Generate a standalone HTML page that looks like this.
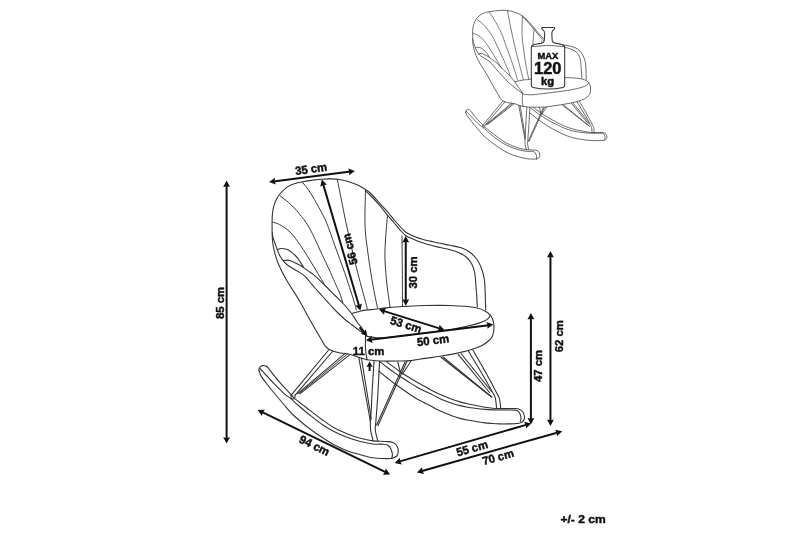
<!DOCTYPE html>
<html lang="en">
<head>
<meta charset="utf-8">
<title>Rocking chair dimensions</title>
<style>
html,body{margin:0;padding:0;background:#fff;}
body{width:800px;height:533px;overflow:hidden;position:relative;font-family:"Liberation Sans",sans-serif;}
svg{position:absolute;left:0;top:0;display:block;will-change:transform;}
svg text{font-family:"Liberation Sans",sans-serif;font-weight:bold;fill:#111;stroke:#111;stroke-width:0.45px;}
</style>
</head>
<body>
<svg width="800" height="533" viewBox="0 0 800 533" role="img" aria-label="Rocking chair dimension drawing">
<rect width="800" height="533" fill="#fff"/>
<!-- main chair -->
<g fill="none" stroke="#333" stroke-width="1.1" stroke-linecap="round" stroke-linejoin="round">
<path d="M485.7 310C485.65 308.33 485.5 303.33 485.4 300C485.3 296.67 485.28 293.5 485.1 290C484.92 286.5 484.9 282.58 484.3 279C483.7 275.42 482.72 271.75 481.5 268.5C480.28 265.25 479 262.25 477 259.5C475 256.75 472.25 253.98 469.5 252C466.75 250.02 463.75 248.72 460.5 247.6C457.25 246.47 453.42 245.97 450 245.25C446.58 244.53 442.83 243.88 440 243.3C437.17 242.73 435.92 242.48 433 241.8C430.08 241.12 425.5 240.1 422.5 239.25C419.5 238.4 417.5 237.7 415 236.7C412.5 235.7 409.25 234.2 407.5 233.25C405.75 232.3 405.75 232.12 404.5 231C403.25 229.88 401.75 228.38 400 226.5C398.25 224.62 396 222.12 394 219.75C392 217.38 390.5 215.12 388 212.25C385.5 209.38 382 205.75 379 202.5C376 199.25 373.08 195.42 370 192.75C366.92 190.08 363.77 188.24 360.5 186.5C357.23 184.76 353.75 183.42 350.4 182.3C347.05 181.18 343.75 180.37 340.4 179.8C337.05 179.23 333.45 179 330.3 178.9C327.15 178.8 324.42 178.98 321.5 179.2C318.58 179.42 315.93 179.78 312.8 180.2C309.67 180.62 305.79 181.1 302.7 181.7C299.61 182.3 296.78 182.93 294.25 183.8C291.72 184.67 289.75 185.37 287.5 186.9C285.25 188.43 282.62 190.88 280.75 193C278.88 195.12 277.51 197.2 276.3 199.6C275.09 202 274.15 204.93 273.5 207.4C272.85 209.87 272.63 211.97 272.4 214.4C272.17 216.83 272.13 218.57 272.1 222C272.07 225.43 272.1 231.58 272.2 235C272.3 238.42 272.35 239.83 272.7 242.5C273.05 245.17 273.35 247.42 274.3 251C275.25 254.58 276.37 259.17 278.4 264C280.43 268.83 283.07 274 286.5 280C289.93 286 295.08 293.33 299 300C302.92 306.67 306.23 313.33 310 320C313.77 326.67 319.03 335.62 321.6 340C324.17 344.38 324.15 344.73 325.4 346.3C326.65 347.87 327 348.37 329.1 349.4C331.2 350.43 334.43 351.65 338 352.5C341.57 353.35 347.02 353.68 350.5 354.5C353.98 355.32 356.15 356.53 358.9 357.4C361.65 358.27 365.65 359.32 367 359.7"/>
<path d="M477.3 306.75C477.22 305.12 477 300.12 476.8 297C476.6 293.88 476.44 292 476.1 288C475.76 284 475.48 277 474.75 273C474.02 269 473.12 266.62 471.75 264C470.38 261.38 468.62 259.12 466.5 257.25C464.38 255.38 461.75 254 459 252.75C456.25 251.5 453.17 250.62 450 249.75C446.83 248.88 442.83 248.16 440 247.5C437.17 246.84 435.92 246.58 433 245.8C430.08 245.02 425.75 243.89 422.5 242.8C419.25 241.71 416.25 240.42 413.5 239.25C410.75 238.08 408.25 237.38 406 235.8C403.75 234.23 402 231.98 400 229.8C398 227.62 396.12 225.25 394 222.75C391.88 220.25 389.75 217.83 387.25 214.8C384.75 211.78 381.88 207.9 379 204.6C376.12 201.3 372.28 197.27 370 195C367.72 192.73 366.08 191.67 365.3 191"/>
<path d="M272.75 222.25C273.88 222.62 276.62 222.88 279.5 224.5C282.38 226.12 286.5 228.5 290 232C293.5 235.5 297 240.5 300.5 245.5C304 250.5 307.75 256.75 311 262C314.25 267.25 317.75 273.25 320 277C322.25 280.75 323.75 283.25 324.5 284.5" stroke-width="0.97"/>
<path d="M280 195.75C281.9 197.29 287.82 201.54 291.4 205C294.98 208.46 298.4 212.5 301.5 216.5C304.6 220.5 306.92 223.42 310 229C313.08 234.58 316.58 242.75 320 250C323.42 257.25 327.83 266.67 330.5 272.5C333.17 278.33 334.46 281.54 336 285C337.54 288.46 338.62 290.32 339.75 293.25C340.88 296.18 342.25 301.04 342.75 302.6" stroke-width="0.97"/>
<path d="M302.7 182.5C303.96 184.18 307.53 188.4 310.25 192.6C312.97 196.8 316.27 202.67 319 207.7C321.73 212.73 323.97 216.5 326.6 222.8C329.23 229.1 331.8 237.22 334.8 245.5C337.8 253.78 341.47 263.42 344.6 272.5C347.73 281.58 351.65 293.75 353.6 300C355.55 306.25 355.85 308.33 356.3 310" stroke-width="0.97"/>
<path d="M337.3 179.4C338.03 183.07 340.17 193.8 341.7 201.4C343.23 209 344.28 214.9 346.5 225C348.72 235.1 351.92 249.5 355 262C358.08 274.5 362.92 292.17 365 300C367.08 307.83 367.08 307.5 367.5 309" stroke-width="0.97"/>
<path d="M365.5 190C365.42 195.83 364.67 215 365 225C365.33 235 366.25 240.33 367.5 250C368.75 259.67 370.83 273.33 372.5 283C374.17 292.67 376.67 303.83 377.5 308" stroke-width="0.97"/>
<path d="M387.5 215C387.17 219.17 385.92 232.5 385.5 240C385.08 247.5 384.75 252.5 385 260C385.25 267.5 386.17 277.25 387 285C387.83 292.75 389.5 302.92 390 306.5" stroke-width="0.97"/>
<path d="M402 236C402.05 241.67 402.22 258.33 402.3 270C402.38 281.67 402.47 300 402.5 306" stroke-width="0.97"/>
<path d="M277.4 249.8C277.77 249.63 278.79 249.02 279.6 248.8C280.41 248.58 280.93 248.37 282.25 248.5C283.57 248.63 286 249 287.5 249.6C289 250.2 290 251.16 291.25 252.1C292.5 253.04 293.88 254.17 295 255.25C296.12 256.33 297.12 257.48 298 258.6C298.88 259.73 299.32 260.53 300.25 262C301.18 263.47 303.04 266.5 303.6 267.4"/>
<path d="M283.4 260.6C284.08 260.52 286.19 260.03 287.5 260.1C288.81 260.17 290 260.56 291.25 261C292.5 261.44 293.62 262.08 295 262.75C296.38 263.42 298.07 264.19 299.5 265C300.93 265.81 301.85 266.38 303.6 267.6C305.35 268.82 308.02 270.85 310 272.3C311.98 273.75 313.08 274.18 315.5 276.3C317.92 278.42 321.25 281.8 324.5 285C327.75 288.2 331.75 292.25 335 295.5C338.25 298.75 341.25 301.5 344 304.5C346.75 307.5 349.25 310.5 351.5 313.5C353.75 316.5 355.67 319.92 357.5 322.5C359.33 325.08 361.08 326.92 362.5 329C363.92 331.08 365.42 334 366 335"/>
<path d="M272.4 233C272.47 233.67 272.41 235.42 272.8 237C273.19 238.58 273.98 240.33 274.75 242.5C275.52 244.67 276.52 247.75 277.4 250C278.27 252.25 279 254.18 280 256C281 257.82 282.15 259.4 283.4 260.9C284.65 262.4 285.57 263.53 287.5 265C289.43 266.47 292.25 267.97 295 269.7C297.75 271.43 301.58 273.43 304 275.4C306.42 277.37 307.67 279.4 309.5 281.5C311.33 283.6 312.83 285.54 315 288C317.17 290.46 320 293.5 322.5 296.25C325 299 327.5 301.79 330 304.5C332.5 307.21 335 310 337.5 312.5C340 315 342.62 317.46 345 319.5C347.38 321.54 349.5 323.05 351.75 324.75C354 326.45 356.12 327.99 358.5 329.7C360.88 331.41 364.75 334.12 366 335"/>
<path d="M351.75 313.5C353.12 313.12 357.38 311.8 360 311.2C362.62 310.6 365 310.23 367.5 309.9C370 309.57 371.25 309.62 375 309.2C378.75 308.78 385 307.87 390 307.4C395 306.93 399.17 306.72 405 306.4C410.83 306.08 417.5 305.65 425 305.5C432.5 305.35 441.67 305.17 450 305.5C458.33 305.83 468.75 306.33 475 307.5C481.25 308.67 484.58 310.58 487.5 312.5C490.42 314.42 491.42 316.5 492.5 319C493.58 321.5 494 324.67 494 327.5C494 330.33 493.25 333.92 492.5 336C491.75 338.08 491.25 338.43 489.5 340C487.75 341.57 485.25 343.73 482 345.4C478.75 347.07 474.5 348.63 470 350C465.5 351.37 460 352.55 455 353.6C450 354.65 445 355.5 440 356.3C435 357.1 430 357.68 425 358.4C420 359.12 414.33 360.17 410 360.6C405.67 361.03 403.96 360.93 399 361C394.04 361.07 385.58 361.22 380.25 361C374.92 360.78 369.21 359.92 367 359.7"/>
<path d="M365.6 335C365.57 336.67 365.37 342.17 365.4 345C365.43 347.83 365.53 349.58 365.8 352C366.07 354.42 366.8 358.25 367 359.5"/>
<path d="M366 336C367.5 336.27 371.83 337.33 375 337.6C378.17 337.87 380.83 337.87 385 337.6C389.17 337.33 393.33 336.77 400 336C406.67 335.23 416.67 334.05 425 333C433.33 331.95 443.02 330.82 450 329.7C456.98 328.58 462.22 327.35 466.9 326.3C471.58 325.25 475.1 324.32 478.1 323.4C481.1 322.48 483.15 321.68 484.9 320.8C486.65 319.92 487.75 318.93 488.6 318.1C489.45 317.27 489.77 316.18 490 315.8"/>
<path d="M328.6 350L291 395.3"/>
<path d="M332.9 351L295.4 394.8"/>
<path d="M290.8 395.3C290.92 395.83 290.88 398 291.5 398.5C292.12 399 293.88 398.95 294.5 398.3C295.12 397.65 295.08 395.22 295.2 394.6"/>
<path d="M345.2 353.4L297.6 393.6"/>
<path d="M347.6 353.9L298.9 393.6" stroke-width="0.97"/>
<path d="M350.3 354.4L300.2 393.6"/>
<path d="M358.8 357.6L370.3 421"/>
<path d="M361.4 358L371.3 419"/>
<path d="M374 361.4C373.68 366.5 372.57 383.78 372.1 392C371.63 400.22 371.5 405.87 371.2 410.7C370.9 415.53 370.37 417.57 370.3 421C370.23 424.43 370.32 428 370.8 431.3C371.28 434.6 372.8 439.22 373.2 440.8"/>
<path d="M379.6 361.4C379.3 367 378.4 385.23 377.8 395C377.2 404.77 376.42 414.17 376 420C375.58 425.83 375 426.52 375.3 430C375.6 433.48 377.38 439.08 377.8 440.9"/>
<path d="M405 362L376.6 425"/>
<path d="M406.9 361.6L377.9 425.8"/>
<path d="M397.8 362L400.5 373"/>
<path d="M411 361L402.5 374"/>
<path d="M441 357.25L491 396.5"/>
<path d="M443 357L492 397.2"/>
<path d="M458 354.2L489.5 392.5"/>
<path d="M461 353.5L491.75 391.75"/>
<path d="M468.5 351.25C470.58 354.71 476.75 364.71 481 372C485.25 379.29 491.57 390.42 494 395C496.43 399.58 495.17 397.28 495.6 399.5C496.03 401.72 496.43 406.83 496.6 408.3"/>
<path d="M473 350.2C475.08 353.83 481.38 364.53 485.5 372C489.62 379.47 495.4 390.42 497.75 395C500.1 399.58 499.1 397.25 499.6 399.5C500.1 401.75 500.56 407 500.75 408.5"/>
<path d="M259 370.8C259 370.5 258.82 369.67 259 369C259.18 368.33 259.45 367.37 260.1 366.8C260.75 366.23 261.98 365.73 262.9 365.6C263.82 365.47 264.75 365.67 265.6 366C266.45 366.33 266.85 366.33 268 367.6C269.15 368.87 270.25 370.82 272.5 373.6C274.75 376.38 278.5 380.93 281.5 384.3C284.5 387.67 288.25 391.37 290.5 393.8C292.75 396.23 292.53 396.73 295 398.9C297.47 401.07 300.7 403.28 305.3 406.8C309.9 410.32 317.65 416.42 322.6 420C327.55 423.58 330.82 425.97 335 428.3C339.18 430.63 343.49 432.33 347.7 434C351.91 435.67 356.07 437.15 360.25 438.3C364.43 439.45 368.61 440.37 372.8 440.9C376.99 441.43 382.03 441.23 385.4 441.5C388.77 441.77 391.02 441.67 393 442.5C394.98 443.33 396.43 444.95 397.3 446.5C398.17 448.05 398.27 450.22 398.2 451.8C398.13 453.38 397.98 454.9 396.9 456C395.82 457.1 392.57 458 391.7 458.4"/>
<path d="M259.8 368.5C260.83 369.58 263.88 372.75 266 375C268.12 377.25 269.53 378.95 272.5 382C275.47 385.05 280.7 390.48 283.8 393.3C286.9 396.12 288.85 397.03 291.1 398.9C293.35 400.77 294.15 401.78 297.3 404.5C300.45 407.22 305.78 411.82 310 415.2C314.22 418.58 318.43 421.98 322.6 424.8C326.77 427.62 330.82 429.97 335 432.1C339.18 434.23 343.49 436.03 347.7 437.6C351.91 439.17 356.07 440.43 360.25 441.5C364.43 442.57 369.01 443.55 372.8 444C376.59 444.45 380.47 443.98 383 444.2C385.53 444.42 386.67 444.45 388 445.3C389.33 446.15 390.27 447.72 391 449.3C391.73 450.88 392.28 453.28 392.4 454.8C392.52 456.32 391.82 457.8 391.7 458.4"/>
<path d="M259 370.8C259.38 371.73 260.05 374.28 261.3 376.4C262.55 378.52 264.63 381.07 266.5 383.5C268.37 385.93 269.62 387.5 272.5 391C275.38 394.5 280.6 400.75 283.8 404.5C287 408.25 289 410.75 291.7 413.5C294.4 416.25 296.95 418.42 300 421C303.05 423.58 306.23 426.22 310 429C313.77 431.78 318.43 434.99 322.6 437.7C326.77 440.41 330.82 443.03 335 445.25C339.18 447.47 343.49 449.43 347.7 451C351.91 452.57 356.07 453.57 360.25 454.7C364.43 455.83 368.61 457.15 372.8 457.8C376.99 458.45 382.25 458.5 385.4 458.6C388.55 458.7 390.65 458.43 391.7 458.4"/>
<path d="M386.5 361.9C387.92 362.9 392.33 365.97 395 367.9C397.67 369.83 400 371.82 402.5 373.5C405 375.18 407.5 376.5 410 378C412.5 379.5 415 381.07 417.5 382.5C420 383.93 422.92 385.45 425 386.6C427.08 387.75 427.92 388.29 430 389.4C432.08 390.51 435 392.05 437.5 393.25C440 394.45 442.5 395.54 445 396.6C447.5 397.66 450 398.72 452.5 399.6C455 400.48 457.5 401.2 460 401.9C462.5 402.6 465 403.23 467.5 403.8C470 404.37 472.08 404.72 475 405.3C477.92 405.88 482.08 406.8 485 407.3C487.92 407.8 490 408.08 492.5 408.3C495 408.52 497.5 408.6 500 408.65C502.5 408.7 505 408.62 507.5 408.6C510 408.58 513.12 408.45 515 408.5C516.88 408.55 517.5 408.4 518.75 408.9C520 409.4 521.56 410.32 522.5 411.5C523.44 412.68 524.15 414.62 524.4 416C524.65 417.38 524.44 418.68 524 419.75C523.56 420.82 522.75 421.77 521.75 422.4C520.75 423.02 518.62 423.32 518 423.5"/>
<path d="M380.3 361.9C381.42 362.78 384.55 365.33 387 367.2C389.45 369.07 392.42 371.3 395 373.1C397.58 374.9 400 376.37 402.5 378C405 379.63 407.5 381.33 410 382.9C412.5 384.47 415 386 417.5 387.4C420 388.8 422.92 390.27 425 391.3C427.08 392.33 427.92 392.58 430 393.6C432.08 394.62 435 396.21 437.5 397.4C440 398.59 442.5 399.75 445 400.75C447.5 401.75 450 402.59 452.5 403.4C455 404.21 457.5 404.97 460 405.6C462.5 406.23 465 406.75 467.5 407.2C470 407.65 472.08 407.93 475 408.3C477.92 408.67 482.08 409.14 485 409.4C487.92 409.66 490 409.75 492.5 409.85C495 409.95 497.5 409.98 500 410C502.5 410.02 505 409.98 507.5 410C510 410.02 513.25 409.97 515 410.15C516.75 410.33 517.12 410.38 518 411.1C518.88 411.83 519.75 413.31 520.25 414.5C520.75 415.69 521 417 521 418.25C521 419.5 520.38 421.38 520.25 422"/>
<path d="M378.8 371.2C380.17 372.3 384.3 375.67 387 377.8C389.7 379.93 392.42 382.09 395 384C397.58 385.91 400 387.5 402.5 389.25C405 391 407.5 392.84 410 394.5C412.5 396.16 415 397.75 417.5 399.2C420 400.65 422.92 402.13 425 403.2C427.08 404.27 427.92 404.51 430 405.6C432.08 406.69 435 408.5 437.5 409.75C440 411 442.5 412.04 445 413.1C447.5 414.16 450 415.22 452.5 416.1C455 416.98 457.5 417.75 460 418.4C462.5 419.05 465 419.52 467.5 420C470 420.48 472.08 420.82 475 421.3C477.92 421.78 482.08 422.53 485 422.9C487.92 423.27 490 423.33 492.5 423.5C495 423.67 497.5 423.83 500 423.9C502.5 423.97 505 423.94 507.5 423.9C510 423.86 513.25 423.72 515 423.65C516.75 423.58 517.5 423.52 518 423.5"/>
</g>
<!-- dimension arrows -->
<g fill="#111" stroke="none">
<path d="M226.6 180.5L223.15 186.9L226.6 186.2L230.05 186.9Z"/>
<path d="M226.6 443.6L223.15 437.2L226.6 437.9L230.05 437.2Z"/>
<path d="M226.6 184.98L226.6 439.12" fill="none" stroke="#111" stroke-width="2"/>
<path d="M269 182L275.79 184.61L274.65 181.28L274.91 177.77Z"/>
<path d="M355 171L349.09 175.23L349.35 171.72L348.21 168.39Z"/>
<path d="M273.44 181.43L350.56 171.57" fill="none" stroke="#111" stroke-width="2"/>
<path d="M321.8 179.6L320.3 186.71L323.41 185.07L326.92 184.76Z"/>
<path d="M360.4 310.6L355.28 305.44L358.79 305.13L361.9 303.49Z"/>
<path d="M323.07 183.9L359.13 306.3" fill="none" stroke="#111" stroke-width="2"/>
<path d="M405.75 236L402.3 242.4L405.75 241.7L409.2 242.4Z"/>
<path d="M405.75 305.75L402.3 299.35L405.75 300.05L409.2 299.35Z"/>
<path d="M405.75 240.48L405.75 301.27" fill="none" stroke="#111" stroke-width="2"/>
<path d="M379 309.5L384.08 314.7L384.44 311.2L386.14 308.12Z"/>
<path d="M444.5 330L437.36 331.38L439.06 328.3L439.42 324.8Z"/>
<path d="M383.28 310.84L440.22 328.66" fill="none" stroke="#111" stroke-width="2"/>
<path d="M365.9 340.3L372.67 342.94L371.56 339.6L371.83 336.09Z"/>
<path d="M493.3 324.6L487.37 328.81L487.64 325.3L486.53 321.96Z"/>
<path d="M370.35 339.75L488.85 325.15" fill="none" stroke="#111" stroke-width="2"/>
<path d="M530.9 313L527.45 319.4L530.9 318.7L534.35 319.4Z"/>
<path d="M530.9 424.5L527.45 418.1L530.9 418.8L534.35 418.1Z"/>
<path d="M530.9 317.48L530.9 420.02" fill="none" stroke="#111" stroke-width="2"/>
<path d="M550.45 251L547 257.4L550.45 256.7L553.9 257.4Z"/>
<path d="M550.45 426L547 419.6L550.45 420.3L553.9 419.6Z"/>
<path d="M550.45 255.48L550.45 421.52" fill="none" stroke="#111" stroke-width="2"/>
<path d="M257.7 410L261.95 415.9L262.83 412.49L264.96 409.7Z"/>
<path d="M390.1 474.4L382.84 474.7L384.97 471.91L385.85 468.5Z"/>
<path d="M261.73 411.96L386.07 472.44" fill="none" stroke="#111" stroke-width="2"/>
<path d="M394.7 462.9L401.81 464.44L400.18 461.32L399.89 457.81Z"/>
<path d="M531.2 423.4L526.01 428.49L525.72 424.98L524.09 421.86Z"/>
<path d="M399 461.65L526.9 424.65" fill="none" stroke="#111" stroke-width="2"/>
<path d="M416.9 472.4L424 473.97L422.38 470.85L422.12 467.33Z"/>
<path d="M562.2 431.2L556.98 436.27L556.72 432.75L555.1 429.63Z"/>
<path d="M421.21 471.18L557.89 432.42" fill="none" stroke="#111" stroke-width="2"/>
<path d="M369.6 361.4L366.45 367L369.6 366.3L372.75 367Z"/>
<path d="M369.6 365.32L369.6 371" fill="none" stroke="#111" stroke-width="2"/>
<path d="M367.3 336L360.84 333.74L363.76 332.05L365.75 329.33Z"/>
<path d="M359.5 327.3L364.5 332.87" fill="none" stroke="#111" stroke-width="2"/>
</g>
<!-- dimension labels -->
<g>
<text transform="translate(219.6 303) rotate(-90) scale(0.98 1)" font-size="11.6" text-anchor="middle" dominant-baseline="central">85 cm</text>
<text transform="translate(311.1 168.8) rotate(-8) scale(0.98 1)" font-size="11.6" text-anchor="middle" dominant-baseline="central">35 cm</text>
<text transform="translate(349.9 249.2) rotate(-104.5) scale(0.96 1)" font-size="11.6" text-anchor="middle" dominant-baseline="central">56 cm</text>
<text transform="translate(412.5 272.5) rotate(-90) scale(0.98 1)" font-size="11.6" text-anchor="middle" dominant-baseline="central">30 cm</text>
<text transform="translate(406 324.6) rotate(17) scale(0.98 1)" font-size="11.6" text-anchor="middle" dominant-baseline="central">53 cm</text>
<text transform="translate(433 340.2) rotate(-7) scale(0.98 1)" font-size="11.6" text-anchor="middle" dominant-baseline="central">50 cm</text>
<text transform="translate(537.5 366) rotate(-90) scale(0.98 1)" font-size="11.6" text-anchor="middle" dominant-baseline="central">47 cm</text>
<text transform="translate(558.9 336.2) rotate(-90) scale(0.98 1)" font-size="11.6" text-anchor="middle" dominant-baseline="central">62 cm</text>
<text transform="translate(314.5 445.5) rotate(26) scale(0.98 1)" font-size="11.6" text-anchor="middle" dominant-baseline="central">94 cm</text>
<text transform="translate(472 448.25) rotate(-16) scale(0.98 1)" font-size="11.6" text-anchor="middle" dominant-baseline="central">55 cm</text>
<text transform="translate(498 457) rotate(-16) scale(0.98 1)" font-size="11.6" text-anchor="middle" dominant-baseline="central">70 cm</text>
<text transform="translate(368.6 350.9) scale(0.98 1)" font-size="11.6" text-anchor="middle" dominant-baseline="central">11 cm</text>
<text transform="translate(583.1 519) scale(1.04 1)" font-size="11.6" text-anchor="middle" dominant-baseline="central">+/- 2 cm</text>
</g>
<!-- small chair with max load -->
<g transform="translate(327.9 -84.9) scale(0.532)">
<g fill="none" stroke="#444" stroke-width="1.5" stroke-linecap="round" stroke-linejoin="round">
<path d="M485.7 310C485.65 308.33 485.5 303.33 485.4 300C485.3 296.67 485.28 293.5 485.1 290C484.92 286.5 484.9 282.58 484.3 279C483.7 275.42 482.72 271.75 481.5 268.5C480.28 265.25 479 262.25 477 259.5C475 256.75 472.25 253.98 469.5 252C466.75 250.02 463.75 248.72 460.5 247.6C457.25 246.47 453.42 245.97 450 245.25C446.58 244.53 442.83 243.88 440 243.3C437.17 242.73 435.92 242.48 433 241.8C430.08 241.12 425.5 240.1 422.5 239.25C419.5 238.4 417.5 237.7 415 236.7C412.5 235.7 409.25 234.2 407.5 233.25C405.75 232.3 405.75 232.12 404.5 231C403.25 229.88 401.75 228.38 400 226.5C398.25 224.62 396 222.12 394 219.75C392 217.38 390.5 215.12 388 212.25C385.5 209.38 382 205.75 379 202.5C376 199.25 373.08 195.42 370 192.75C366.92 190.08 363.77 188.24 360.5 186.5C357.23 184.76 353.75 183.42 350.4 182.3C347.05 181.18 343.75 180.37 340.4 179.8C337.05 179.23 333.45 179 330.3 178.9C327.15 178.8 324.42 178.98 321.5 179.2C318.58 179.42 315.93 179.78 312.8 180.2C309.67 180.62 305.79 181.1 302.7 181.7C299.61 182.3 296.78 182.93 294.25 183.8C291.72 184.67 289.75 185.37 287.5 186.9C285.25 188.43 282.62 190.88 280.75 193C278.88 195.12 277.51 197.2 276.3 199.6C275.09 202 274.15 204.93 273.5 207.4C272.85 209.87 272.63 211.97 272.4 214.4C272.17 216.83 272.13 218.57 272.1 222C272.07 225.43 272.1 231.58 272.2 235C272.3 238.42 272.35 239.83 272.7 242.5C273.05 245.17 273.35 247.42 274.3 251C275.25 254.58 276.37 259.17 278.4 264C280.43 268.83 283.07 274 286.5 280C289.93 286 295.08 293.33 299 300C302.92 306.67 306.23 313.33 310 320C313.77 326.67 319.03 335.62 321.6 340C324.17 344.38 324.15 344.73 325.4 346.3C326.65 347.87 327 348.37 329.1 349.4C331.2 350.43 334.43 351.65 338 352.5C341.57 353.35 347.02 353.68 350.5 354.5C353.98 355.32 356.15 356.53 358.9 357.4C361.65 358.27 365.65 359.32 367 359.7"/>
<path d="M477.3 306.75C477.22 305.12 477 300.12 476.8 297C476.6 293.88 476.44 292 476.1 288C475.76 284 475.48 277 474.75 273C474.02 269 473.12 266.62 471.75 264C470.38 261.38 468.62 259.12 466.5 257.25C464.38 255.38 461.75 254 459 252.75C456.25 251.5 453.17 250.62 450 249.75C446.83 248.88 442.83 248.16 440 247.5C437.17 246.84 435.92 246.58 433 245.8C430.08 245.02 425.75 243.89 422.5 242.8C419.25 241.71 416.25 240.42 413.5 239.25C410.75 238.08 408.25 237.38 406 235.8C403.75 234.23 402 231.98 400 229.8C398 227.62 396.12 225.25 394 222.75C391.88 220.25 389.75 217.83 387.25 214.8C384.75 211.78 381.88 207.9 379 204.6C376.12 201.3 372.28 197.27 370 195C367.72 192.73 366.08 191.67 365.3 191"/>
<path d="M272.75 222.25C273.88 222.62 276.62 222.88 279.5 224.5C282.38 226.12 286.5 228.5 290 232C293.5 235.5 297 240.5 300.5 245.5C304 250.5 307.75 256.75 311 262C314.25 267.25 317.75 273.25 320 277C322.25 280.75 323.75 283.25 324.5 284.5" stroke-width="1.32"/>
<path d="M280 195.75C281.9 197.29 287.82 201.54 291.4 205C294.98 208.46 298.4 212.5 301.5 216.5C304.6 220.5 306.92 223.42 310 229C313.08 234.58 316.58 242.75 320 250C323.42 257.25 327.83 266.67 330.5 272.5C333.17 278.33 334.46 281.54 336 285C337.54 288.46 338.62 290.32 339.75 293.25C340.88 296.18 342.25 301.04 342.75 302.6" stroke-width="1.32"/>
<path d="M302.7 182.5C303.96 184.18 307.53 188.4 310.25 192.6C312.97 196.8 316.27 202.67 319 207.7C321.73 212.73 323.97 216.5 326.6 222.8C329.23 229.1 331.8 237.22 334.8 245.5C337.8 253.78 341.47 263.42 344.6 272.5C347.73 281.58 351.65 293.75 353.6 300C355.55 306.25 355.85 308.33 356.3 310" stroke-width="1.32"/>
<path d="M337.3 179.4C338.03 183.07 340.17 193.8 341.7 201.4C343.23 209 344.28 214.9 346.5 225C348.72 235.1 351.92 249.5 355 262C358.08 274.5 362.92 292.17 365 300C367.08 307.83 367.08 307.5 367.5 309" stroke-width="1.32"/>
<path d="M365.5 190C365.42 195.83 364.67 215 365 225C365.33 235 366.25 240.33 367.5 250C368.75 259.67 370.83 273.33 372.5 283C374.17 292.67 376.67 303.83 377.5 308" stroke-width="1.32"/>
<path d="M387.5 215C387.17 219.17 385.92 232.5 385.5 240C385.08 247.5 384.75 252.5 385 260C385.25 267.5 386.17 277.25 387 285C387.83 292.75 389.5 302.92 390 306.5" stroke-width="1.32"/>
<path d="M402 236C402.05 241.67 402.22 258.33 402.3 270C402.38 281.67 402.47 300 402.5 306" stroke-width="1.32"/>
<path d="M277.4 249.8C277.77 249.63 278.79 249.02 279.6 248.8C280.41 248.58 280.93 248.37 282.25 248.5C283.57 248.63 286 249 287.5 249.6C289 250.2 290 251.16 291.25 252.1C292.5 253.04 293.88 254.17 295 255.25C296.12 256.33 297.12 257.48 298 258.6C298.88 259.73 299.32 260.53 300.25 262C301.18 263.47 303.04 266.5 303.6 267.4"/>
<path d="M283.4 260.6C284.08 260.52 286.19 260.03 287.5 260.1C288.81 260.17 290 260.56 291.25 261C292.5 261.44 293.62 262.08 295 262.75C296.38 263.42 298.07 264.19 299.5 265C300.93 265.81 301.85 266.38 303.6 267.6C305.35 268.82 308.02 270.85 310 272.3C311.98 273.75 313.08 274.18 315.5 276.3C317.92 278.42 321.25 281.8 324.5 285C327.75 288.2 331.75 292.25 335 295.5C338.25 298.75 341.25 301.5 344 304.5C346.75 307.5 349.25 310.5 351.5 313.5C353.75 316.5 355.67 319.92 357.5 322.5C359.33 325.08 361.08 326.92 362.5 329C363.92 331.08 365.42 334 366 335"/>
<path d="M272.4 233C272.47 233.67 272.41 235.42 272.8 237C273.19 238.58 273.98 240.33 274.75 242.5C275.52 244.67 276.52 247.75 277.4 250C278.27 252.25 279 254.18 280 256C281 257.82 282.15 259.4 283.4 260.9C284.65 262.4 285.57 263.53 287.5 265C289.43 266.47 292.25 267.97 295 269.7C297.75 271.43 301.58 273.43 304 275.4C306.42 277.37 307.67 279.4 309.5 281.5C311.33 283.6 312.83 285.54 315 288C317.17 290.46 320 293.5 322.5 296.25C325 299 327.5 301.79 330 304.5C332.5 307.21 335 310 337.5 312.5C340 315 342.62 317.46 345 319.5C347.38 321.54 349.5 323.05 351.75 324.75C354 326.45 356.12 327.99 358.5 329.7C360.88 331.41 364.75 334.12 366 335"/>
<path d="M351.75 313.5C353.12 313.12 357.38 311.8 360 311.2C362.62 310.6 365 310.23 367.5 309.9C370 309.57 371.25 309.62 375 309.2C378.75 308.78 385 307.87 390 307.4C395 306.93 399.17 306.72 405 306.4C410.83 306.08 417.5 305.65 425 305.5C432.5 305.35 441.67 305.17 450 305.5C458.33 305.83 468.75 306.33 475 307.5C481.25 308.67 484.58 310.58 487.5 312.5C490.42 314.42 491.42 316.5 492.5 319C493.58 321.5 494 324.67 494 327.5C494 330.33 493.25 333.92 492.5 336C491.75 338.08 491.25 338.43 489.5 340C487.75 341.57 485.25 343.73 482 345.4C478.75 347.07 474.5 348.63 470 350C465.5 351.37 460 352.55 455 353.6C450 354.65 445 355.5 440 356.3C435 357.1 430 357.68 425 358.4C420 359.12 414.33 360.17 410 360.6C405.67 361.03 403.96 360.93 399 361C394.04 361.07 385.58 361.22 380.25 361C374.92 360.78 369.21 359.92 367 359.7"/>
<path d="M365.6 335C365.57 336.67 365.37 342.17 365.4 345C365.43 347.83 365.53 349.58 365.8 352C366.07 354.42 366.8 358.25 367 359.5"/>
<path d="M366 336C367.5 336.27 371.83 337.33 375 337.6C378.17 337.87 380.83 337.87 385 337.6C389.17 337.33 393.33 336.77 400 336C406.67 335.23 416.67 334.05 425 333C433.33 331.95 443.02 330.82 450 329.7C456.98 328.58 462.22 327.35 466.9 326.3C471.58 325.25 475.1 324.32 478.1 323.4C481.1 322.48 483.15 321.68 484.9 320.8C486.65 319.92 487.75 318.93 488.6 318.1C489.45 317.27 489.77 316.18 490 315.8"/>
<path d="M328.6 350L291 395.3"/>
<path d="M332.9 351L295.4 394.8"/>
<path d="M290.8 395.3C290.92 395.83 290.88 398 291.5 398.5C292.12 399 293.88 398.95 294.5 398.3C295.12 397.65 295.08 395.22 295.2 394.6"/>
<path d="M345.2 353.4L297.6 393.6"/>
<path d="M347.6 353.9L298.9 393.6" stroke-width="1.32"/>
<path d="M350.3 354.4L300.2 393.6"/>
<path d="M358.8 357.6L370.3 421"/>
<path d="M361.4 358L371.3 419"/>
<path d="M374 361.4C373.68 366.5 372.57 383.78 372.1 392C371.63 400.22 371.5 405.87 371.2 410.7C370.9 415.53 370.37 417.57 370.3 421C370.23 424.43 370.32 428 370.8 431.3C371.28 434.6 372.8 439.22 373.2 440.8"/>
<path d="M379.6 361.4C379.3 367 378.4 385.23 377.8 395C377.2 404.77 376.42 414.17 376 420C375.58 425.83 375 426.52 375.3 430C375.6 433.48 377.38 439.08 377.8 440.9"/>
<path d="M405 362L376.6 425"/>
<path d="M406.9 361.6L377.9 425.8"/>
<path d="M397.8 362L400.5 373"/>
<path d="M411 361L402.5 374"/>
<path d="M441 357.25L491 396.5"/>
<path d="M443 357L492 397.2"/>
<path d="M458 354.2L489.5 392.5"/>
<path d="M461 353.5L491.75 391.75"/>
<path d="M468.5 351.25C470.58 354.71 476.75 364.71 481 372C485.25 379.29 491.57 390.42 494 395C496.43 399.58 495.17 397.28 495.6 399.5C496.03 401.72 496.43 406.83 496.6 408.3"/>
<path d="M473 350.2C475.08 353.83 481.38 364.53 485.5 372C489.62 379.47 495.4 390.42 497.75 395C500.1 399.58 499.1 397.25 499.6 399.5C500.1 401.75 500.56 407 500.75 408.5"/>
<path d="M259 370.8C259 370.5 258.82 369.67 259 369C259.18 368.33 259.45 367.37 260.1 366.8C260.75 366.23 261.98 365.73 262.9 365.6C263.82 365.47 264.75 365.67 265.6 366C266.45 366.33 266.85 366.33 268 367.6C269.15 368.87 270.25 370.82 272.5 373.6C274.75 376.38 278.5 380.93 281.5 384.3C284.5 387.67 288.25 391.37 290.5 393.8C292.75 396.23 292.53 396.73 295 398.9C297.47 401.07 300.7 403.28 305.3 406.8C309.9 410.32 317.65 416.42 322.6 420C327.55 423.58 330.82 425.97 335 428.3C339.18 430.63 343.49 432.33 347.7 434C351.91 435.67 356.07 437.15 360.25 438.3C364.43 439.45 368.61 440.37 372.8 440.9C376.99 441.43 382.03 441.23 385.4 441.5C388.77 441.77 391.02 441.67 393 442.5C394.98 443.33 396.43 444.95 397.3 446.5C398.17 448.05 398.27 450.22 398.2 451.8C398.13 453.38 397.98 454.9 396.9 456C395.82 457.1 392.57 458 391.7 458.4"/>
<path d="M259.8 368.5C260.83 369.58 263.88 372.75 266 375C268.12 377.25 269.53 378.95 272.5 382C275.47 385.05 280.7 390.48 283.8 393.3C286.9 396.12 288.85 397.03 291.1 398.9C293.35 400.77 294.15 401.78 297.3 404.5C300.45 407.22 305.78 411.82 310 415.2C314.22 418.58 318.43 421.98 322.6 424.8C326.77 427.62 330.82 429.97 335 432.1C339.18 434.23 343.49 436.03 347.7 437.6C351.91 439.17 356.07 440.43 360.25 441.5C364.43 442.57 369.01 443.55 372.8 444C376.59 444.45 380.47 443.98 383 444.2C385.53 444.42 386.67 444.45 388 445.3C389.33 446.15 390.27 447.72 391 449.3C391.73 450.88 392.28 453.28 392.4 454.8C392.52 456.32 391.82 457.8 391.7 458.4"/>
<path d="M259 370.8C259.38 371.73 260.05 374.28 261.3 376.4C262.55 378.52 264.63 381.07 266.5 383.5C268.37 385.93 269.62 387.5 272.5 391C275.38 394.5 280.6 400.75 283.8 404.5C287 408.25 289 410.75 291.7 413.5C294.4 416.25 296.95 418.42 300 421C303.05 423.58 306.23 426.22 310 429C313.77 431.78 318.43 434.99 322.6 437.7C326.77 440.41 330.82 443.03 335 445.25C339.18 447.47 343.49 449.43 347.7 451C351.91 452.57 356.07 453.57 360.25 454.7C364.43 455.83 368.61 457.15 372.8 457.8C376.99 458.45 382.25 458.5 385.4 458.6C388.55 458.7 390.65 458.43 391.7 458.4"/>
<path d="M386.5 361.9C387.92 362.9 392.33 365.97 395 367.9C397.67 369.83 400 371.82 402.5 373.5C405 375.18 407.5 376.5 410 378C412.5 379.5 415 381.07 417.5 382.5C420 383.93 422.92 385.45 425 386.6C427.08 387.75 427.92 388.29 430 389.4C432.08 390.51 435 392.05 437.5 393.25C440 394.45 442.5 395.54 445 396.6C447.5 397.66 450 398.72 452.5 399.6C455 400.48 457.5 401.2 460 401.9C462.5 402.6 465 403.23 467.5 403.8C470 404.37 472.08 404.72 475 405.3C477.92 405.88 482.08 406.8 485 407.3C487.92 407.8 490 408.08 492.5 408.3C495 408.52 497.5 408.6 500 408.65C502.5 408.7 505 408.62 507.5 408.6C510 408.58 513.12 408.45 515 408.5C516.88 408.55 517.5 408.4 518.75 408.9C520 409.4 521.56 410.32 522.5 411.5C523.44 412.68 524.15 414.62 524.4 416C524.65 417.38 524.44 418.68 524 419.75C523.56 420.82 522.75 421.77 521.75 422.4C520.75 423.02 518.62 423.32 518 423.5"/>
<path d="M380.3 361.9C381.42 362.78 384.55 365.33 387 367.2C389.45 369.07 392.42 371.3 395 373.1C397.58 374.9 400 376.37 402.5 378C405 379.63 407.5 381.33 410 382.9C412.5 384.47 415 386 417.5 387.4C420 388.8 422.92 390.27 425 391.3C427.08 392.33 427.92 392.58 430 393.6C432.08 394.62 435 396.21 437.5 397.4C440 398.59 442.5 399.75 445 400.75C447.5 401.75 450 402.59 452.5 403.4C455 404.21 457.5 404.97 460 405.6C462.5 406.23 465 406.75 467.5 407.2C470 407.65 472.08 407.93 475 408.3C477.92 408.67 482.08 409.14 485 409.4C487.92 409.66 490 409.75 492.5 409.85C495 409.95 497.5 409.98 500 410C502.5 410.02 505 409.98 507.5 410C510 410.02 513.25 409.97 515 410.15C516.75 410.33 517.12 410.38 518 411.1C518.88 411.83 519.75 413.31 520.25 414.5C520.75 415.69 521 417 521 418.25C521 419.5 520.38 421.38 520.25 422"/>
<path d="M378.8 371.2C380.17 372.3 384.3 375.67 387 377.8C389.7 379.93 392.42 382.09 395 384C397.58 385.91 400 387.5 402.5 389.25C405 391 407.5 392.84 410 394.5C412.5 396.16 415 397.75 417.5 399.2C420 400.65 422.92 402.13 425 403.2C427.08 404.27 427.92 404.51 430 405.6C432.08 406.69 435 408.5 437.5 409.75C440 411 442.5 412.04 445 413.1C447.5 414.16 450 415.22 452.5 416.1C455 416.98 457.5 417.75 460 418.4C462.5 419.05 465 419.52 467.5 420C470 420.48 472.08 420.82 475 421.3C477.92 421.78 482.08 422.53 485 422.9C487.92 423.27 490 423.33 492.5 423.5C495 423.67 497.5 423.83 500 423.9C502.5 423.97 505 423.94 507.5 423.9C510 423.86 513.25 423.72 515 423.65C516.75 423.58 517.5 423.52 518 423.5"/>
</g>
</g>
<g>
<path d="M531.3 47.6 Q531.3 44.9 534.4 44.4 L541 43.3 Q544.4 42.6 544.4 39.4 L544.7 33.4 Q544.6 30.6 542.2 29.2 Q541.2 28.3 542.2 27.5 L554.2 27.5 Q555.2 28.3 554.2 29.2 Q551.8 30.6 551.8 33.4 L552.1 39.4 Q552.1 42.6 555.5 43.3 L561.6 44.4 Q564.7 44.9 564.7 47.6 L564.7 85.6 Q564.7 87 563 87.4 Q548 90.8 533 87.4 Q531.3 87 531.3 85.6 Z" fill="#fff" stroke="#333" stroke-width="1.05" stroke-linejoin="round"/>
<path d="M531.8 46.6 Q548 44.2 564.2 46.6" fill="none" stroke="#444" stroke-width="0.8"/>
<text transform="translate(547.8 58.9) scale(1.04 1)" font-size="9" text-anchor="middle">MAX</text>
<text transform="translate(547.8 73.6) scale(1.04 1)" font-size="15.8" text-anchor="middle">120</text>
<text transform="translate(547.6 84.6) scale(1.07 1)" font-size="10.5" text-anchor="middle">kg</text>
</g>
</svg>
</body>
</html>
